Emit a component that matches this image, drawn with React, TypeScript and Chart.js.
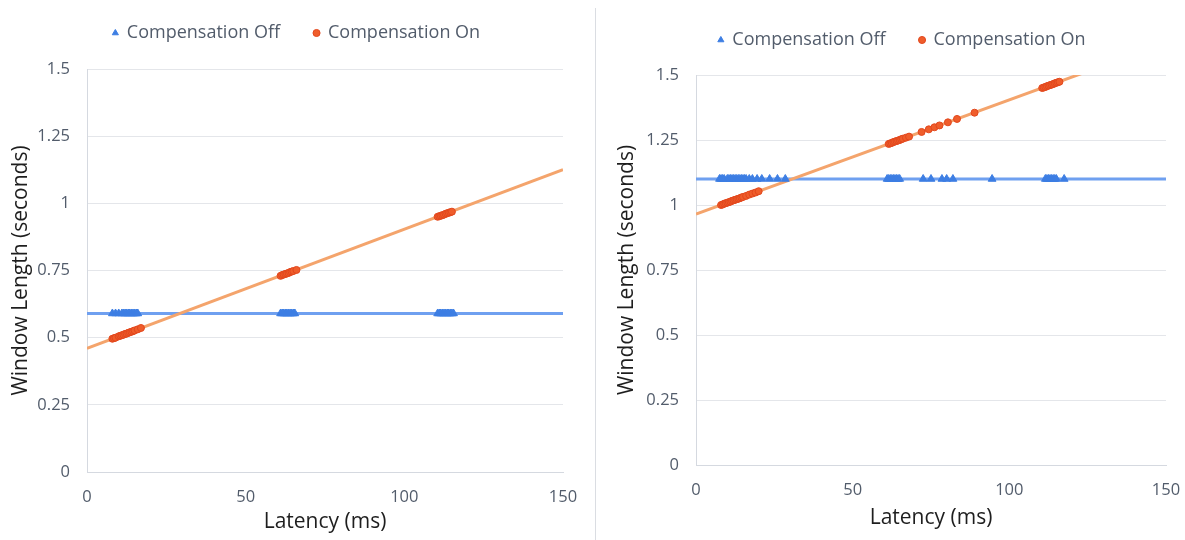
import { useEffect, useRef } from "react";
import { Chart, registerables } from "chart.js";

Chart.register(...registerables);

// ---- Without latency compensation (left panel) ----
const leftOffLatency = [8, 9, 10, 11, 11.5, 12, 12.5, 13, 13.5, 14, 14.5, 15, 15.5, 16, 61, 61.5, 62, 62.5, 63, 63.5, 64, 64.5, 65, 65.5, 110.5, 111, 111.5, 112, 112.5, 113, 113.5, 114, 114.5, 115, 115.5];
const leftOffWindow = [0.59, 0.59, 0.59, 0.59, 0.59, 0.59, 0.59, 0.59, 0.59, 0.59, 0.59, 0.59, 0.59, 0.59, 0.59, 0.59, 0.59, 0.59, 0.59, 0.59, 0.59, 0.59, 0.59, 0.59, 0.59, 0.59, 0.59, 0.59, 0.59, 0.59, 0.59, 0.59, 0.59, 0.59, 0.59];
const leftOnLatency = [8, 8.5, 9, 10, 10.5, 11, 11.5, 12, 12.5, 13, 13.5, 14, 14.5, 15, 16, 17, 61, 61.5, 62, 62.5, 63, 63.5, 64, 64.5, 65, 66, 110.5, 111, 111.5, 112, 112.5, 113, 113.5, 114, 114.5, 115];
const leftOnWindow = [0.496, 0.498, 0.5, 0.505, 0.507, 0.509, 0.511, 0.514, 0.515, 0.518, 0.52, 0.522, 0.524, 0.527, 0.531, 0.536, 0.73, 0.733, 0.735, 0.737, 0.739, 0.741, 0.744, 0.746, 0.748, 0.752, 0.95, 0.952, 0.954, 0.956, 0.958, 0.961, 0.963, 0.965, 0.967, 0.969];
const leftOffTrend = [0.59, 0.59];
const leftOnTrend = [0.46, 1.125];

// ---- With latency compensation (right panel) ----
const rightOffLatency = [7.5, 8, 8.5, 9, 10, 10.5, 11, 11.5, 12, 12.5, 13, 13.5, 14, 14.5, 15, 15.5, 16, 17, 18, 19.5, 21, 23.5, 26, 28.5, 61, 61.5, 62, 62.5, 63, 63.5, 64, 64.5, 65, 72.5, 75, 78.5, 80, 82, 94.5, 111.5, 112, 112.5, 113, 113.5, 114, 114.5, 115, 117.5];
const rightOffWindow = [1.1, 1.1, 1.1, 1.1, 1.1, 1.1, 1.1, 1.1, 1.1, 1.1, 1.1, 1.1, 1.1, 1.1, 1.1, 1.1, 1.1, 1.1, 1.1, 1.1, 1.1, 1.1, 1.1, 1.1, 1.1, 1.1, 1.1, 1.1, 1.1, 1.1, 1.1, 1.1, 1.1, 1.1, 1.1, 1.1, 1.1, 1.1, 1.1, 1.1, 1.1, 1.1, 1.1, 1.1, 1.1, 1.1, 1.1, 1.1];
const rightOnLatency = [8, 8.5, 9, 9.5, 10, 10.5, 11, 11.5, 12, 12.5, 13, 13.5, 14, 14.5, 15, 16, 17, 18, 19, 20, 61.5, 62, 62.5, 63, 63.5, 64, 64.5, 65, 65.5, 66, 67, 68, 72, 74.3, 76.1, 77.7, 80.4, 83.3, 88.9, 110.5, 111, 111.5, 112, 112.5, 113, 113.5, 114, 114.5, 115, 115.5, 116];
const rightOnWindow = [1.0, 1.002, 1.005, 1.007, 1.009, 1.011, 1.013, 1.016, 1.018, 1.02, 1.022, 1.024, 1.026, 1.029, 1.031, 1.035, 1.04, 1.044, 1.048, 1.053, 1.235, 1.237, 1.239, 1.242, 1.244, 1.246, 1.248, 1.25, 1.253, 1.255, 1.259, 1.263, 1.281, 1.291, 1.299, 1.306, 1.318, 1.331, 1.355, 1.45, 1.452, 1.454, 1.457, 1.459, 1.461, 1.463, 1.465, 1.468, 1.47, 1.472, 1.474];
const rightOffTrend = [1.1, 1.1];
const rightOnTrend = [0.965, 1.624];

// Trend lines span the whole latency axis
const trendLatency = [0, 150];

const xMin = 0;
const xMax = 150;
const xStep = 50;
const yMin = 0;
const yMax = 1.5;
const yStep = 0.25;

const OFF_COLOR = "#3D7EE3";
const OFF_TREND = "#6FA0F0";
const ON_FILL = "#EF5D2B";
const ON_EDGE = "#E2471D";
const ON_TREND = "#F4A46C";
const GRID = "#E4E6EA";
const AXIS = "#D5D9E0";
const TICK_TEXT = "#525C6B";
const TITLE_TEXT = "#1E1E1E";
const FONT = "'Open Sans', 'Noto Sans', sans-serif";

const toPoints = (xs: number[], ys: number[]) => xs.map((x, i) => ({ x, y: ys[i] }));
const fmtTick = (v: number | string) => String(Number(Number(v).toFixed(2)));

type Layout = {
  width: number;
  height: number;
  padTop: number;
  padRight: number;
  yWidth: number;
  xHeight: number;
  yTitlePad: number;
  xTitlePad: number;
  legendDx: number;
  legendDy: number;
};

// Moves the legend box after layout so it sits where it belongs above the plot
const legendShift = {
  id: "legendShift",
  afterLayout(chart: any, _args: any, opts: any) {
    const lg = chart.legend;
    if (!lg) return;
    const dx = opts.dx || 0;
    const dy = opts.dy || 0;
    lg.left += dx;
    lg.right += dx;
    lg.top += dy;
    lg.bottom += dy;
    if (lg.legendHitBoxes) {
      lg.legendHitBoxes.forEach((b: any) => {
        b.left += dx;
        b.top += dy;
      });
    }
  },
};

function ScatterPanel(props: {
  offX: number[];
  offY: number[];
  onX: number[];
  onY: number[];
  offTrend: number[];
  onTrend: number[];
  layout: Layout;
}) {
  const ref = useRef<HTMLCanvasElement | null>(null);
  const { offX, offY, onX, onY, offTrend, onTrend, layout } = props;

  useEffect(() => {
    if (!ref.current) return;
    const chart = new Chart(ref.current, {
      type: "scatter",
      data: {
        datasets: [
          {
            label: "Compensation Off",
            data: toPoints(offX, offY),
            pointStyle: "triangle",
            pointRadius: 4.5,
            pointBackgroundColor: OFF_COLOR,
            pointBorderColor: OFF_COLOR,
            backgroundColor: OFF_COLOR,
            borderColor: OFF_COLOR,
            pointBorderWidth: 1,
            order: 0,
          },
          {
            label: "Compensation On",
            data: toPoints(onX, onY),
            pointStyle: "circle",
            pointRadius: 3.5,
            pointBackgroundColor: ON_FILL,
            pointBorderColor: ON_EDGE,
            backgroundColor: ON_FILL,
            borderColor: ON_EDGE,
            pointBorderWidth: 1,
            order: 0,
          },
          {
            type: "line",
            label: "Off trend",
            data: toPoints(trendLatency, offTrend),
            borderColor: OFF_TREND,
            borderWidth: 3,
            pointRadius: 0,
            showLine: true,
            fill: false,
            order: 2,
          },
          {
            type: "line",
            label: "On trend",
            data: toPoints(trendLatency, onTrend),
            borderColor: ON_TREND,
            borderWidth: 3,
            pointRadius: 0,
            showLine: true,
            fill: false,
            order: 1,
          },
        ] as any,
      },
      options: {
        animation: false,
        responsive: false,
        maintainAspectRatio: false,
        layout: {
          padding: { top: layout.padTop, right: layout.padRight, left: 0, bottom: 0 },
        },
        plugins: {
          tooltip: { enabled: false },
          legend: {
            display: true,
            position: "top",
            labels: {
              usePointStyle: true,
              boxWidth: 5,
              boxHeight: 5,
              padding: 34,
              color: TICK_TEXT,
              font: { family: FONT, size: 18 },
              filter: (item: any) => item.datasetIndex < 2,
            },
          },
          legendShift: { dx: layout.legendDx, dy: layout.legendDy },
        } as any,
        scales: {
          x: {
            type: "linear",
            min: xMin,
            max: xMax,
            ticks: {
              stepSize: xStep,
              color: TICK_TEXT,
              font: { family: FONT, size: 16.5 },
              padding: 15,
              callback: fmtTick,
            },
            grid: { display: false, drawTicks: false },
            border: { display: true, color: AXIS, width: 1 },
            title: {
              display: true,
              text: "Latency (ms)",
              color: TITLE_TEXT,
              font: { family: FONT, size: 21 },
              padding: { top: 0, bottom: layout.xTitlePad },
            },
            afterFit: (scale: any) => {
              scale.height = layout.xHeight;
              // the outer edge label fits inside the layout padding
              scale.paddingLeft = 0;
              scale.paddingRight = 0;
            },
          },
          y: {
            type: "linear",
            min: yMin,
            max: yMax,
            ticks: {
              stepSize: yStep,
              color: TICK_TEXT,
              font: { family: FONT, size: 16.5 },
              padding: 17,
              callback: fmtTick,
            },
            grid: { color: GRID, lineWidth: 1, drawTicks: false },
            border: { display: true, color: AXIS, width: 1 },
            title: {
              display: true,
              text: "Window Length (seconds)",
              color: TITLE_TEXT,
              font: { family: FONT, size: 21 },
              padding: { top: layout.yTitlePad, bottom: 0 },
            },
            afterFit: (scale: any) => {
              scale.width = layout.yWidth;
            },
          },
        },
      } as any,
      plugins: [legendShift],
    });
    return () => chart.destroy();
  }, [offX, offY, onX, onY, offTrend, onTrend, layout]);

  return <canvas ref={ref} width={layout.width} height={layout.height} style={{ display: "block" }} />;
}

const leftLayout: Layout = {
  width: 595,
  height: 540,
  padTop: 7,
  padRight: 32,
  yWidth: 87,
  xHeight: 68,
  yTitlePad: 8,
  xTitlePad: 5,
  legendDx: 15,
  legendDy: -17,
};

const rightLayout: Layout = {
  width: 585,
  height: 540,
  padTop: 13,
  padRight: 19,
  yWidth: 96,
  xHeight: 75,
  yTitlePad: 14,
  xTitlePad: 9,
  legendDx: 19,
  legendDy: -16,
};

export default function App() {
  return (
    <div
      style={{
        position: "fixed",
        left: 0,
        top: 0,
        width: 1185,
        height: 540,
        background: "#ffffff",
        overflow: "hidden",
      }}
    >
      <div style={{ position: "absolute", left: 0, top: 0 }}>
        <ScatterPanel
          offX={leftOffLatency}
          offY={leftOffWindow}
          onX={leftOnLatency}
          onY={leftOnWindow}
          offTrend={leftOffTrend}
          onTrend={leftOnTrend}
          layout={leftLayout}
        />
      </div>
      <div
        style={{
          position: "absolute",
          left: 595,
          top: 8,
          width: 1,
          height: 532,
          background: "#DADDE2",
        }}
      />
      <div style={{ position: "absolute", left: 600, top: 0 }}>
        <ScatterPanel
          offX={rightOffLatency}
          offY={rightOffWindow}
          onX={rightOnLatency}
          onY={rightOnWindow}
          offTrend={rightOffTrend}
          onTrend={rightOnTrend}
          layout={rightLayout}
        />
      </div>
    </div>
  );
}
